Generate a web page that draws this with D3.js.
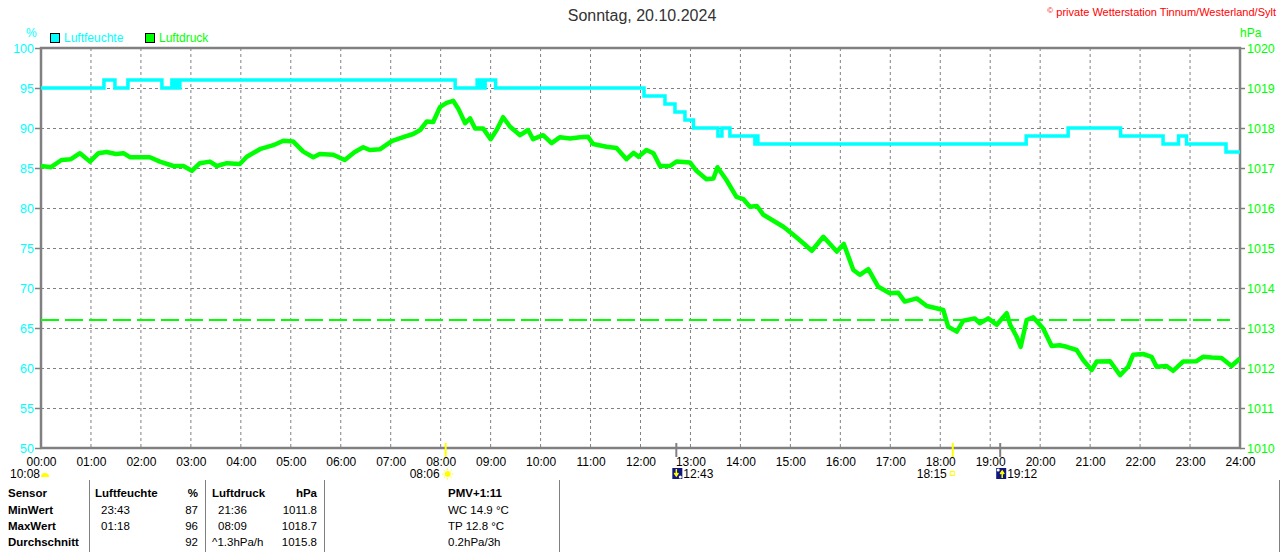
<!DOCTYPE html>
<html><head><meta charset="utf-8">
<script src="https://cdn.jsdelivr.net/npm/d3@7"></script>
<style>
html,body{margin:0;padding:0;background:#fff;}
svg{display:block;font-family:"Liberation Sans",Arial,sans-serif;}
</style></head><body>
<svg id="c" width="1280" height="552"></svg>
<script>
// ---- data ----
const hourTicks = d3.range(0, 25);
const humTicks = [50,55,60,65,70,75,80,85,90,95,100];
const presTicks = [1010,1011,1012,1013,1014,1015,1016,1017,1018,1019,1020];

const humTime = [0,1.26,1.48,1.74,2.42,2.62,2.66,2.70,2.74,2.78,8.29,8.73,8.77,8.81,8.85,8.89,9.1,12.07,12.49,12.69,12.89,13.06,13.55,13.63,13.79,14.29,14.32,14.35,19.72,20.56,21.61,22.46,22.77,22.93,23.72,24];
const humVal  = [95,96,95,96,95,96,95,96,95,96,95,96,95,96,95,96,95,94,93,92,91,90,89,90,89,88,89,88,89,90,89,88,89,88,87,87];

const presTime = [0,0.2,0.41,0.6,0.78,0.98,1.15,1.31,1.5,1.65,1.78,2.0,2.18,2.38,2.65,2.85,3.02,3.18,3.38,3.52,3.72,3.98,4.12,4.38,4.65,4.85,5.05,5.25,5.45,5.58,5.85,6.08,6.28,6.45,6.58,6.79,7.02,7.25,7.45,7.59,7.72,7.85,7.99,8.12,8.25,8.35,8.49,8.59,8.69,8.85,9.0,9.12,9.25,9.39,9.59,9.75,9.85,10.05,10.22,10.39,10.59,10.79,10.95,11.05,11.32,11.52,11.72,11.86,11.96,12.12,12.26,12.39,12.59,12.72,12.99,13.12,13.32,13.46,13.54,13.72,13.92,14.06,14.19,14.33,14.46,14.66,14.86,15.06,15.26,15.43,15.66,15.93,16.07,16.26,16.39,16.56,16.76,16.99,17.16,17.29,17.53,17.73,17.9,18.06,18.16,18.33,18.46,18.69,18.79,18.96,19.13,19.33,19.4,19.53,19.61,19.73,19.86,20.06,20.23,20.39,20.53,20.73,20.86,21.03,21.13,21.4,21.6,21.76,21.86,22.06,22.23,22.33,22.53,22.66,22.86,23.13,23.26,23.43,23.63,23.83,24.0];
const presVal = [1017.05,1017.02,1017.2,1017.22,1017.37,1017.16,1017.37,1017.4,1017.35,1017.37,1017.27,1017.27,1017.27,1017.16,1017.05,1017.05,1016.93,1017.12,1017.16,1017.05,1017.12,1017.1,1017.28,1017.47,1017.57,1017.68,1017.66,1017.41,1017.27,1017.35,1017.33,1017.2,1017.4,1017.52,1017.45,1017.47,1017.67,1017.77,1017.85,1017.95,1018.16,1018.15,1018.53,1018.63,1018.68,1018.49,1018.12,1018.24,1017.99,1017.99,1017.72,1017.95,1018.27,1018.03,1017.82,1017.95,1017.72,1017.82,1017.62,1017.77,1017.74,1017.77,1017.78,1017.6,1017.53,1017.5,1017.22,1017.38,1017.28,1017.45,1017.37,1017.05,1017.05,1017.16,1017.14,1016.93,1016.72,1016.74,1017.02,1016.7,1016.28,1016.22,1016.03,1016.05,1015.83,1015.68,1015.53,1015.33,1015.12,1014.93,1015.28,1014.91,1015.1,1014.45,1014.33,1014.47,1014.03,1013.87,1013.88,1013.66,1013.74,1013.55,1013.5,1013.45,1013.03,1012.91,1013.18,1013.24,1013.12,1013.24,1013.08,1013.37,1013.08,1012.78,1012.53,1013.2,1013.27,1012.99,1012.55,1012.57,1012.53,1012.45,1012.2,1011.95,1012.16,1012.17,1011.82,1012.03,1012.33,1012.35,1012.28,1012.03,1012.05,1011.93,1012.16,1012.17,1012.28,1012.26,1012.25,1012.05,1012.24];

const refPressure = 1013.2;

// astro events (hours)
const sunEvents = [{t:8.1, label:"08:06", kind:"sunrise"},{t:18.25, label:"18:15", kind:"sunset"}];
const moonEvents = [{t:12.717, label:"12:43", kind:"moonset"},{t:19.2, label:"19:12", kind:"moonrise"}];
const moonStart = {label:"10:08"};

const tableHeader = ["Sensor","Luftfeuchte","%","Luftdruck","hPa","PMV+1:11"];
const rowNames = ["MinWert","MaxWert","Durchschnitt"];
const humTimes = ["23:43","01:18",""];
const humStats = ["87","96","92"];
const presTimes = ["21:36","08:09","^1.3hPa/h"];
const presStats = ["1011.8","1018.7","1015.8"];
const extraLines = ["WC 14.9 °C","TP 12.8 °C","0.2hPa/3h"];

// ---- drawing ----
const svg = d3.select("#c");
const L=41,R=1240,T=48,B=448;
const x = d3.scaleLinear().domain([0,24]).range([L,R]);
const yH = d3.scaleLinear().domain([50,100]).range([B,T]);
const yP = d3.scaleLinear().domain([1010,1020]).range([B,T]);
const CY="#00ffff", GR="#00ff00", GRAY="#808080";

// grid
svg.append("g").selectAll("line").data(hourTicks.slice(1,24)).join("line")
  .attr("x1",d=>x(d)).attr("x2",d=>x(d)).attr("y1",T).attr("y2",B)
  .attr("stroke",GRAY).attr("stroke-dasharray","3,3").attr("stroke-width",1);
svg.append("g").selectAll("line").data(humTicks.slice(1,10)).join("line")
  .attr("x1",L).attr("x2",R).attr("y1",d=>yH(d)+0.5).attr("y2",d=>yH(d)+0.5)
  .attr("stroke",GRAY).attr("stroke-dasharray","3,3").attr("stroke-width",1);

// axes
const fmtH = d=>String(d).padStart(2,"0")+":00";
const gx = svg.append("g").attr("transform",`translate(0,${B})`)
  .call(d3.axisBottom(x).tickValues(hourTicks).tickFormat(fmtH).tickSize(0).tickPadding(9));
gx.select(".domain").remove();
gx.selectAll("text").attr("fill","#000").attr("font-size",12).attr("font-family","Liberation Sans, Arial");

const gl = svg.append("g").attr("transform",`translate(${L},0)`)
  .call(d3.axisLeft(yH).tickValues(humTicks).tickFormat(d3.format("d")).tickSize(6).tickPadding(1));
gl.select(".domain").remove();
gl.selectAll("line").attr("stroke",GRAY).attr("stroke-width",1.5);
gl.selectAll("text").attr("fill",CY).attr("font-size",12.5).attr("font-family","Liberation Sans, Arial");

const gr = svg.append("g").attr("transform",`translate(${R},0)`)
  .call(d3.axisRight(yP).tickValues(presTicks).tickFormat(d3.format("d")).tickSize(5).tickPadding(2));
gr.select(".domain").remove();
gr.selectAll("line").attr("stroke",GRAY).attr("stroke-width",1.5);
gr.selectAll("text").attr("fill",GR).attr("font-size",12.5).attr("font-family","Liberation Sans, Arial");

// frame
svg.append("rect").attr("x",L).attr("y",T).attr("width",R-L).attr("height",B-T)
  .attr("fill","none").attr("stroke",GRAY).attr("stroke-width",2.5);

// event ticks
svg.append("g").selectAll("line").data(sunEvents).join("line")
  .attr("x1",d=>x(d.t)).attr("x2",d=>x(d.t)).attr("y1",B-5).attr("y2",B+9)
  .attr("stroke","#ffff00").attr("stroke-width",2);
svg.append("g").selectAll("line").data(moonEvents).join("line")
  .attr("x1",d=>x(d.t)).attr("x2",d=>x(d.t)).attr("y1",B-5).attr("y2",B+9)
  .attr("stroke",GRAY).attr("stroke-width",2);

// reference line
svg.append("line").attr("x1",L).attr("x2",x(23.8)).attr("y1",yP(refPressure)).attr("y2",yP(refPressure))
  .attr("stroke",GR).attr("stroke-width",2).attr("stroke-dasharray","18,6");

// clip
svg.append("clipPath").attr("id","cp").append("rect").attr("x",L).attr("y",T).attr("width",R-L).attr("height",B-T);

const humData = humTime.map((t,i)=>({t,v:humVal[i]}));
const presData = presTime.map((t,i)=>({t,v:presVal[i]}));

svg.append("path").datum(humData).attr("clip-path","url(#cp)")
  .attr("d",d3.line().x(d=>x(d.t)).y(d=>yH(d.v)).curve(d3.curveStepAfter))
  .attr("fill","none").attr("stroke",CY).attr("stroke-width",3.5);
svg.append("path").datum(presData).attr("clip-path","url(#cp)")
  .attr("d",d3.line().x(d=>x(d.t)).y(d=>yP(d.v)))
  .attr("fill","none").attr("stroke",GR).attr("stroke-width",4.5).attr("stroke-linejoin","round");

// titles
svg.append("text").attr("x",642).attr("y",21).attr("text-anchor","middle")
  .attr("font-size",16).attr("fill","#333").text("Sonntag, 20.10.2024");
const cpy = svg.append("text").attr("x",1276).attr("y",16).attr("text-anchor","end")
  .attr("font-size",11).attr("fill","#ff0000");
cpy.append("tspan").attr("font-size",8).attr("dy",-3).text("©");
cpy.append("tspan").attr("dy",3).text(" private Wetterstation Tinnum/Westerland/Sylt");

svg.append("text").attr("x",26).attr("y",37).attr("font-size",12).attr("fill",CY).text("%");
svg.append("text").attr("x",1240).attr("y",37).attr("font-size",12).attr("fill",GR).text("hPa");
const legend=[{n:"Luftfeuchte",c:CY,x:50},{n:"Luftdruck",c:GR,x:145}];
legend.forEach(l=>{
  svg.append("rect").attr("x",l.x+0.5).attr("y",33.5).attr("width",9).attr("height",9).attr("fill",l.c).attr("stroke","#000");
  svg.append("text").attr("x",l.x+14).attr("y",42).attr("font-size",12).attr("fill",l.c).text(l.n);
});

// astro labels
const ly=478;
svg.append("text").attr("x",10).attr("y",ly).attr("font-size",12).text(moonStart.label);
svg.append("path").attr("d",`M41,477 A4,4 0 0 1 49,477 Z`).attr("fill","#ffff00");
// sunrise
const sr=sunEvents[0];
svg.append("text").attr("x",x(sr.t)-6).attr("y",ly).attr("text-anchor","end").attr("font-size",12).text(sr.label);
svg.append("circle").attr("cx",x(sr.t)+2).attr("cy",474).attr("r",3).attr("fill","#ffff00");
d3.range(8).forEach(i=>{const a=i*Math.PI/4;
  svg.append("line").attr("x1",x(sr.t)+2+Math.cos(a)*4).attr("y1",474+Math.sin(a)*4)
   .attr("x2",x(sr.t)+2+Math.cos(a)*5.5).attr("y2",474+Math.sin(a)*5.5).attr("stroke","#ffff00").attr("stroke-width",1);});
// sunset
const ss=sunEvents[1];
svg.append("text").attr("x",x(ss.t)-6).attr("y",ly).attr("text-anchor","end").attr("font-size",12).text(ss.label);
svg.append("rect").attr("x",x(ss.t)-2.5).attr("y",471.5).attr("width",4).attr("height",4).attr("fill","none").attr("stroke","#ffff00");
// moon icons
moonEvents.forEach(m=>{
  const cx=x(m.t)-4;
  svg.append("rect").attr("x",cx).attr("y",468).attr("width",10).attr("height",11).attr("fill","#101880");
  const up = m.kind==="moonrise";
  svg.append("path").attr("d", up
      ? `M${cx+6},478 L${cx+6},472 M${cx+4},474 L${cx+6},471 L${cx+8},474`
      : `M${cx+4},469 L${cx+4},475 M${cx+2},473 L${cx+4},476 L${cx+6},473`)
    .attr("stroke","#ffff00").attr("stroke-width",1.5).attr("fill","none");
  svg.append("circle").attr("cx",up?cx+2:cx+8).attr("cy",up?470:477).attr("r",1.5).attr("fill","#fff");
  svg.append("text").attr("x",cx+11).attr("y",ly).attr("font-size",12).text(m.label);
});

// table
[89,205,324,559,1279].forEach(sx=>{
  svg.append("line").attr("x1",sx+0.5).attr("x2",sx+0.5).attr("y1",480).attr("y2",552).attr("stroke",GRAY).attr("stroke-width",1);
});
const rowY=[497,514,530,546];
const t = (xx,yy,s,anchor,bold)=>svg.append("text").attr("x",xx).attr("y",yy).attr("font-size",11.5)
   .attr("text-anchor",anchor||"start").attr("font-weight",bold?"bold":"normal").attr("fill","#000").text(s);
t(8,rowY[0],tableHeader[0],"start",true);
t(95,rowY[0],tableHeader[1],"start",true);
t(198,rowY[0],tableHeader[2],"end",true);
t(212,rowY[0],tableHeader[3],"start",true);
t(317,rowY[0],tableHeader[4],"end",true);
t(448,rowY[0],tableHeader[5],"start",true);
rowNames.forEach((r,i)=>{
  const yy=rowY[i+1];
  t(8,yy,r,"start",true);
  t(101,yy,humTimes[i]);
  t(198,yy,humStats[i],"end");
  t(presTimes[i].startsWith("^")?212:218,yy,presTimes[i]);
  t(317,yy,presStats[i],"end");
  t(448,yy,extraLines[i]);
});
</script></body></html>
